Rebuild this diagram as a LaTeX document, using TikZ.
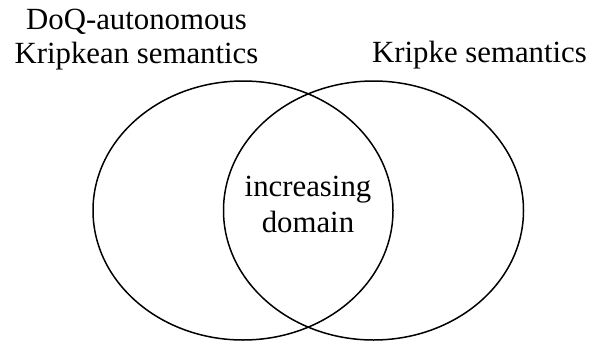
\documentclass[tikz,border=0pt]{standalone}
\usepackage{fontspec}
\setmainfont{Liberation Serif}
\usepackage{tikz}

\begin{document}
\begin{tikzpicture}[x=1pt, y=1pt, line join=round, line cap=round]
      \useasboundingbox (0,0) rectangle (592,341);
      \coordinate (L) at (243,130.5);
      \coordinate (R) at (373.5,130.5);

      \draw[line width=1.5pt] (L) ellipse [x radius=150pt, y radius=129.5pt];
      \draw[line width=1.5pt] (R) ellipse [x radius=150pt, y radius=129.5pt];

      \node[anchor=base, align=center, inner sep=0pt, font=\fontsize{30.8}{33}\selectfont] (doq) at (136.5,278) {DoQ-autonomous\\Kripkean semantics};
      \node[anchor=base, inner sep=0pt, font=\fontsize{30.8}{33}\selectfont] (kripke) at (479.5,279) {Kripke semantics};
      \node[anchor=base, align=center, inner sep=0pt, font=\fontsize{30.8}{36}\selectfont] (incr) at (308,109) {increasing\\domain};
    \end{tikzpicture}
\end{document}
